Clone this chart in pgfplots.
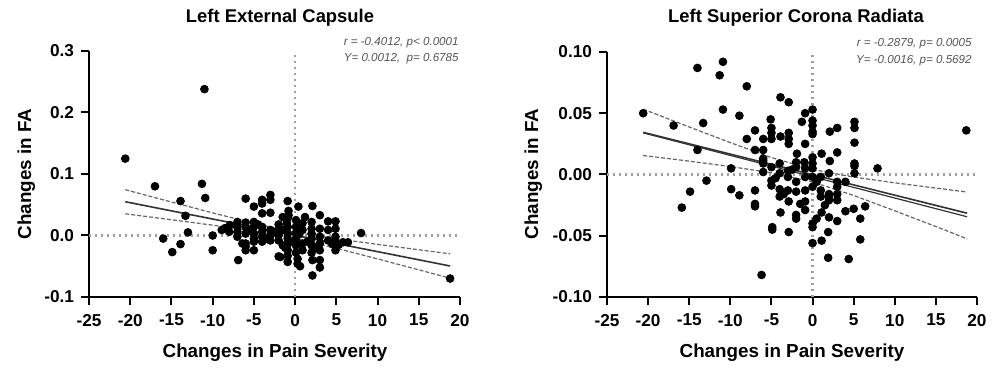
\documentclass[border=0pt]{standalone}
\usepackage{pgfplots}
\pgfplotsset{compat=1.18}
\usepackage{pgfplotstable}
\usepackage{fontspec}
\setmainfont{Liberation Sans}
\definecolor{annot}{HTML}{555555}
\definecolor{zline}{HTML}{A0A0A0}

\pgfplotstableread{
x y
-20.6 0.125
-11.0 0.238
-17.0 0.080
-11.3 0.084
-10.9 0.061
-13.9 0.056
-13.3 0.032
-13.0 0.005
-16.0 -0.005
-14.9 -0.027
-13.9 -0.014
-10.0 0.000
-10.0 -0.024
-8.9 0.009
-7.9 0.017
-8.0 0.006
-6.9 -0.040
-6.0 0.060
-5.0 0.047
-4.0 0.058
-4.0 0.052
-3.0 0.066
-3.0 0.058
-4.0 0.036
-3.0 0.037
-0.9 0.056
0.4 0.047
2.1 0.048
3.0 0.033
4.0 0.023
4.9 0.023
-0.8 0.040
-0.8 0.033
8.0 0.004
18.8 -0.070
2.1 -0.065
3.0 -0.052
0.3 -0.046
0.6 -0.050
-0.9 -0.043
-1.8 -0.035
2.1 -0.040
3.0 -0.040
0.9 -0.024
-5.0 -0.024
-6.0 -0.013
-6.0 -0.018
-7.0 0.022
-7.0 0.014
-7.0 0.006
-7.0 -0.002
-6.4 -0.013
-6.0 0.003
-6.0 0.014
-6.0 0.021
-5.0 0.022
-5.0 0.014
-5.0 0.003
-5.0 -0.005
-5.0 -0.010
-6.0 -0.024
-4.0 0.014
-4.0 0.006
-4.0 -0.002
-4.0 -0.010
-3.0 0.009
-3.0 0.001
-3.0 -0.008
-2.0 0.009
-2.0 0.001
-2.0 -0.008
-2.0 -0.034
-0.9 0.028
-0.9 0.014
-0.9 0.003
-0.9 -0.005
-0.9 -0.013
-0.9 -0.024
-0.9 -0.033
-1.5 0.030
-1.5 0.009
-1.5 -0.016
0.1 0.025
0.1 0.014
0.1 0.004
0.1 -0.005
0.1 -0.016
0.1 -0.028
0.9 0.020
0.9 0.009
0.9 -0.013
2.0 0.022
2.0 0.011
2.0 0.003
2.0 -0.005
2.0 -0.016
2.0 -0.028
3.0 0.011
3.0 -0.002
3.0 -0.013
3.0 -0.024
4.0 0.009
4.0 -0.008
4.9 0.011
4.9 -0.002
4.9 -0.011
4.9 -0.018
4.9 -0.024
5.8 -0.011
6.4 -0.011
-2.5 0.005
-1.2 -0.020
1.5 -0.010
0.5 0.002
-3.5 -0.005
-0.5 -0.010
1.2 0.030
-4.5 0.018
-5.5 0.008
2.5 -0.020
-8.5 0.012
4.5 -0.014
5.3 -0.015
-2.0 0.018
0.3 -0.038
-1.0 0.020
}\leftdata

\pgfplotstableread{
x y
-20.6 0.050
-16.9 0.040
-15.9 -0.027
-14.0 0.087
-13.3 0.042
-14.0 0.020
-12.9 -0.005
-14.9 -0.014
-11.3 0.081
-10.9 0.092
-10.9 0.053
-9.9 0.005
-9.9 -0.012
-8.9 0.048
-8.9 -0.017
-8.0 0.072
-8.0 0.029
-7.0 0.036
-7.0 0.020
-7.0 -0.013
-7.0 -0.024
-7.0 -0.026
-6.0 0.029
-6.0 0.020
-6.0 0.013
-6.0 0.009
-6.0 0.002
-6.2 -0.082
-5.1 0.045
-5.0 0.038
-5.0 0.034
-5.0 0.029
-4.9 -0.043
-4.9 -0.045
-3.9 0.063
-2.9 0.059
-3.9 0.031
-2.9 0.034
-2.9 0.029
-2.9 0.025
-2.9 -0.047
-3.9 -0.031
-2.9 -0.022
-1.3 0.043
-0.9 0.050
0.0 0.053
0.0 0.044
0.0 0.040
0.0 0.035
0.0 0.033
-0.9 0.025
-1.9 0.017
2.1 0.035
3.0 0.038
5.1 0.043
5.1 0.038
5.1 0.026
3.0 0.018
1.1 0.017
2.1 0.011
5.1 0.009
5.1 0.007
5.1 0.001
7.9 0.005
18.7 0.036
1.1 -0.054
0.0 -0.056
1.9 -0.068
4.4 -0.069
5.8 -0.053
5.8 -0.036
6.4 -0.026
5.0 -0.028
4.0 -0.030
4.0 -0.006
3.0 -0.006
3.0 -0.010
3.0 -0.016
3.0 -0.021
3.0 -0.038
2.0 -0.016
2.0 -0.018
2.0 -0.021
2.0 -0.035
1.9 -0.047
1.0 -0.002
1.0 -0.013
1.0 -0.018
1.1 -0.031
2.0 0.001
0.0 0.014
0.0 0.009
0.0 -0.002
0.0 -0.010
0.0 -0.040
0.0 -0.043
-0.9 0.005
-0.9 -0.002
-0.9 -0.013
-0.9 -0.022
-0.9 -0.029
-2.0 0.006
-2.0 -0.006
-2.0 -0.014
-2.0 -0.033
-2.0 -0.036
-3.0 0.003
-3.0 -0.002
-3.0 -0.013
-4.0 0.001
-4.0 -0.012
-4.0 -0.018
-5.0 0.006
-5.0 -0.005
-5.0 -0.009
-4.0 0.009
-1.0 0.010
-2.0 0.010
0.0 0.005
0.5 -0.006
-3.5 -0.016
-1.5 -0.024
0.5 -0.036
-6.0 0.011
1.5 -0.025
-2.5 0.004
-4.5 -0.003
}\rightdata

\pgfplotsset{
  myaxis/.style={
    scale only axis,
    anchor=south west,
    axis x line=bottom, axis y line=left,
    axis line style={line width=1pt,-},
    every tick/.style={line width=1pt,black},
    major tick length=4pt,
    tick align=outside,
    xmin=-25, xmax=20,
    xtick={-25,-20,-15,-10,-5,0,5,10,15,20},
    xticklabels={-25,-20,-15,-10,-5,0,5,10,15,20},
    ticklabel style={font=\bfseries\fontsize{8.6}{10}\selectfont},
    xticklabel style={yshift=-1pt},
    /pgf/number format/assume math mode=true,
    clip=false,
  },
  pts/.style={only marks, mark=*, mark size=1.95pt, black},
  fitline/.style={no marks, black!80, line width=0.8pt},
  ciline/.style={no marks, black!60, line width=0.6pt, dash pattern=on 2pt off 1pt},
  zeroline/.style={no marks, zline, line width=1.2pt, dash pattern=on 1.1pt off 1.9pt},
}

\begin{document}
\begin{tikzpicture}
\useasboundingbox (0,0) rectangle (496pt,184.5pt);
% ---------------- Left ----------------
\begin{axis}[myaxis, at={(44.5pt,36pt)}, width=185.5pt, height=123pt,
  ymin=-0.1, ymax=0.3, ytick={-0.1,0,0.1,0.2,0.3},
  yticklabels={-0.1,0.0,0.1,0.2,0.3}]
\addplot[zeroline] coordinates {(-25,0) (20,0)};
\addplot[zeroline] coordinates {(0,-0.1) (0,0.3)};
\addplot[ciline] coordinates {(-20.6,0.0745) (-15,0.0544) (-10,0.0368) (-5,0.0198) (0,0.0054) (5,-0.0053) (10,-0.0144) (15,-0.0232) (18.8,-0.0298)};
\addplot[ciline] coordinates {(-20.6,0.0353) (-15,0.0256) (-10,0.0168) (-5,0.0072) (0,-0.0048) (5,-0.0207) (10,-0.0380) (15,-0.0558) (18.8,-0.0694)};
\addplot[fitline] coordinates {(-20.6,0.0549) (18.8,-0.0496)};
\addplot[pts] table[x=x,y=y] {\leftdata};
\end{axis}
% ---------------- Right ----------------
\begin{axis}[myaxis, at={(303.5pt,36pt)}, width=185pt, height=122.5pt,
  ymin=-0.1, ymax=0.1, ytick={-0.1,-0.05,0,0.05,0.1},
  yticklabels={-0.10,-0.05,0.00,0.05,0.10}]
\addplot[zeroline] coordinates {(-25,0) (20,0)};
\addplot[zeroline] coordinates {(0,-0.1) (0,0.1)};
\addplot[ciline] coordinates {(-20.6,0.0533) (-15,0.0388) (-10,0.0260) (-5,0.0138) (0,0.0041) (5,-0.0021) (10,-0.0068) (15,-0.0111) (18.8,-0.0143)};
\addplot[ciline] coordinates {(-20.6,0.0155) (-15,0.0109) (-10,0.0065) (-5,0.0014) (0,-0.0061) (5,-0.0171) (10,-0.0296) (15,-0.0425) (18.8,-0.0525)};
\addplot[fitline] coordinates {(-20.6,0.0344) (18.8,-0.0316)};
\addplot[fitline, line width=0.6pt] coordinates {(-20.6,0.0340) (18.8,-0.0345)};
\addplot[pts] table[x=x,y=y] {\rightdata};
\end{axis}
% ---------------- Text ----------------
\node[anchor=base, font=\bfseries\fontsize{9.2}{11}\selectfont] at (140pt,173pt) {Left External Capsule};
\node[anchor=base, font=\bfseries\fontsize{9.2}{11}\selectfont] at (398pt,173pt) {Left Superior Corona Radiata};
\node[anchor=base, font=\bfseries\fontsize{9.4}{11}\selectfont] at (137.5pt,5.5pt) {Changes in Pain Severity};
\node[anchor=base, font=\bfseries\fontsize{9.4}{11}\selectfont] at (396pt,5.5pt) {Changes in Pain Severity};
\node[anchor=base, rotate=90, font=\bfseries\fontsize{9.4}{11}\selectfont] at (15.5pt,97.5pt) {Changes in FA};
\node[anchor=base, rotate=90, font=\bfseries\fontsize{9.4}{11}\selectfont] at (269pt,97.5pt) {Changes in FA};
\node[anchor=base east, font=\itshape\fontsize{5.8}{6.7}\selectfont, text=annot, inner sep=0pt] at (229.5pt,161.5pt) {r = -0.4012, p< 0.0001};
\node[anchor=base east, font=\itshape\fontsize{5.8}{6.7}\selectfont, text=annot, inner sep=0pt] at (229.5pt,153.5pt) {Y= 0.0012,\ \ p= 0.6785};
\node[anchor=base east, font=\itshape\fontsize{5.8}{6.7}\selectfont, text=annot, inner sep=0pt] at (486pt,161pt) {r = -0.2879, p= 0.0005};
\node[anchor=base east, font=\itshape\fontsize{5.8}{6.7}\selectfont, text=annot, inner sep=0pt] at (486pt,152.5pt) {Y= -0.0016, p= 0.5692};
\end{tikzpicture}
\end{document}
